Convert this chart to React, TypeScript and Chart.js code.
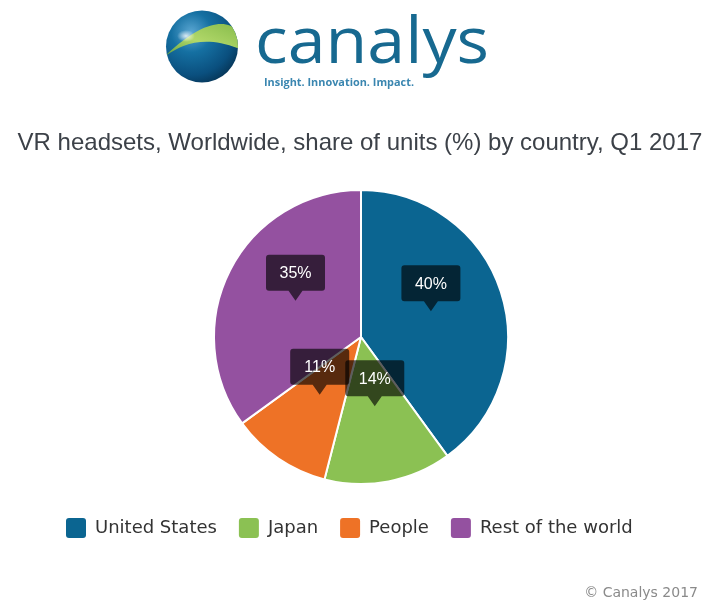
import React, { useEffect, useRef } from 'react';
import { Chart, registerables, layouts } from 'chart.js';

Chart.register(...registerables);

const categories = ['United States', 'Japan', 'People', 'Rest of the world'];
const shares = [40, 14, 11, 35];
const sliceColors = ['#0b6591', '#8bc153', '#ee7226', '#9451a0'];
const chartTitle = 'VR headsets, Worldwide, share of units (%) by country, Q1 2017';
const copyrightText = '© Canalys 2017';

const labelBoxPlugin = {
  id: 'labelBoxes',
  afterDatasetsDraw(chart: any) {
    const ctx = chart.ctx;
    const meta = chart.getDatasetMeta(0);
    const data = chart.data.datasets[0].data;
    ctx.save();
    meta.data.forEach((arc: any, i: number) => {
      const p = arc.tooltipPosition(false);
      const tipX = p.x;
      const tipY = p.y - 3;
      const w = 59, h = 36, ah = 10, aw = 7, r = 3;
      const bx = tipX - w / 2;
      const by = tipY - ah - h;
      ctx.beginPath();
      ctx.moveTo(bx + r, by);
      ctx.lineTo(bx + w - r, by);
      ctx.arcTo(bx + w, by, bx + w, by + r, r);
      ctx.lineTo(bx + w, by + h - r);
      ctx.arcTo(bx + w, by + h, bx + w - r, by + h, r);
      ctx.lineTo(tipX + aw, by + h);
      ctx.lineTo(tipX, tipY);
      ctx.lineTo(tipX - aw, by + h);
      ctx.lineTo(bx + r, by + h);
      ctx.arcTo(bx, by + h, bx, by + h - r, r);
      ctx.lineTo(bx, by + r);
      ctx.arcTo(bx, by, bx + r, by, r);
      ctx.closePath();
      ctx.fillStyle = 'rgba(0,0,0,0.63)';
      ctx.fill();
      ctx.fillStyle = '#ffffff';
      ctx.font = '16px "Liberation Sans", Arial, sans-serif';
      ctx.textAlign = 'center';
      ctx.textBaseline = 'middle';
      ctx.fillText(`${data[i]}%`, tipX, by + h / 2 + 1);
    });
    ctx.restore();
  },
};

// invisible side boxes that narrow the plot area without narrowing the title
const spacerPlugin = {
  id: 'sideSpacers',
  beforeInit(chart: any) {
    const make = (position: string, size: number) => ({
      position,
      weight: 0,
      fullSize: false,
      options: {},
      left: 0,
      top: 0,
      right: 0,
      bottom: 0,
      width: 0,
      height: 0,
      isHorizontal() {
        return false;
      },
      update(_maxWidth: number, maxHeight: number) {
        this.width = size;
        this.height = maxHeight;
      },
      draw() {},
    });
    layouts.addBox(chart, make('left', 44) as any);
    layouts.addBox(chart, make('right', 42) as any);
  },
};

function Logo() {
  return (
    <svg width={728} height={100} style={{ position: 'absolute', left: 0, top: 0 }}>
      <defs>
        <radialGradient id="globeGrad" cx="35%" cy="30%" r="80%">
          <stop offset="0%" stopColor="#5aa6d2" />
          <stop offset="35%" stopColor="#1570a2" />
          <stop offset="75%" stopColor="#0a4f7e" />
          <stop offset="100%" stopColor="#05304f" />
        </radialGradient>
        <linearGradient id="bandGrad" x1="0" y1="1" x2="1" y2="0">
          <stop offset="0%" stopColor="#5c9c3e" />
          <stop offset="45%" stopColor="#b2d86a" />
          <stop offset="100%" stopColor="#86bb4a" />
        </linearGradient>
        <radialGradient id="shine" cx="50%" cy="50%" r="50%">
          <stop offset="0%" stopColor="#ffffff" stopOpacity={0.8} />
          <stop offset="100%" stopColor="#ffffff" stopOpacity={0} />
        </radialGradient>
        <clipPath id="globeClip">
          <circle cx={202} cy={46.5} r={36} />
        </clipPath>
      </defs>
      <circle cx={202} cy={46.5} r={36} fill="url(#globeGrad)" />
      <g clipPath="url(#globeClip)">
        <path d="M164,57 C182,44 205,34 242,50 L242,35 C230,19 207,16 164,57 Z" fill="url(#bandGrad)" />
        <ellipse cx={186} cy={36} rx={9} ry={6} fill="url(#shine)" />
      </g>
      <text
        x={255}
        y={63}
        fontFamily="'Open Sans', 'Noto Sans', sans-serif"
        fontSize={64}
        fill="#176990"
        textLength={234}
        lengthAdjust="spacingAndGlyphs"
      >
        canalys
      </text>
      <text
        x={264}
        y={86}
        fontFamily="'Open Sans', 'Noto Sans', sans-serif"
        fontSize={11}
        fontWeight="bold"
        fill="#3a86b0"
        textLength={150}
        lengthAdjust="spacingAndGlyphs"
      >
        Insight. Innovation. Impact.
      </text>
    </svg>
  );
}

export default function App() {
  const canvasRef = useRef<HTMLCanvasElement | null>(null);

  useEffect(() => {
    document.body.style.margin = '0';
    const canvas = canvasRef.current;
    if (!canvas) return;
    const baseGen = (Chart as any).overrides.pie.plugins.legend.labels.generateLabels;
    const chart = new Chart(canvas, {
      type: 'pie',
      data: {
        labels: categories,
        datasets: [
          {
            data: shares,
            backgroundColor: sliceColors,
            borderColor: '#ffffff',
            borderWidth: 2,
            radius: 147,
          } as any,
        ],
      },
      options: {
        animation: false,
        responsive: false,
        maintainAspectRatio: false,
        layout: { padding: { top: 0, bottom: 68, left: 0, right: 8 } },
        plugins: {
          tooltip: { enabled: false },
          title: {
            display: true,
            text: chartTitle,
            color: '#3c4148',
            font: { family: '"Liberation Sans", Arial, sans-serif', size: 24, weight: 'normal' },
            padding: { top: 129, bottom: 20.2 },
          },
          legend: {
            display: true,
            position: 'bottom',
            align: 'start',
            fullSize: false,
            labels: {
              boxWidth: 20,
              boxHeight: 20,
              padding: 22,
              color: '#333333',
              useBorderRadius: true,
              borderRadius: 3,
              font: { family: '"DejaVu Sans", Verdana, sans-serif', size: 18 },
              generateLabels: (c: any) =>
                baseGen(c).map((it: any) => ({ ...it, lineWidth: 0, strokeStyle: 'rgba(0,0,0,0)' })),
            },
          },
        },
      } as any,
      plugins: [spacerPlugin, labelBoxPlugin],
    });
    return () => chart.destroy();
  }, []);

  return (
    <div style={{ position: 'fixed', left: 0, top: 0, width: 728, height: 616, background: '#ffffff' }}>
      <canvas ref={canvasRef} width={728} height={616} style={{ position: 'absolute', left: 0, top: 0 }} />
      <Logo />
      <div
        style={{
          position: 'absolute',
          right: 30,
          top: 583,
          fontFamily: '"DejaVu Sans", Verdana, sans-serif',
          fontSize: 14,
          lineHeight: '18px',
          color: '#8a8a8a',
          whiteSpace: 'nowrap',
        }}
      >
        {copyrightText}
      </div>
    </div>
  );
}
